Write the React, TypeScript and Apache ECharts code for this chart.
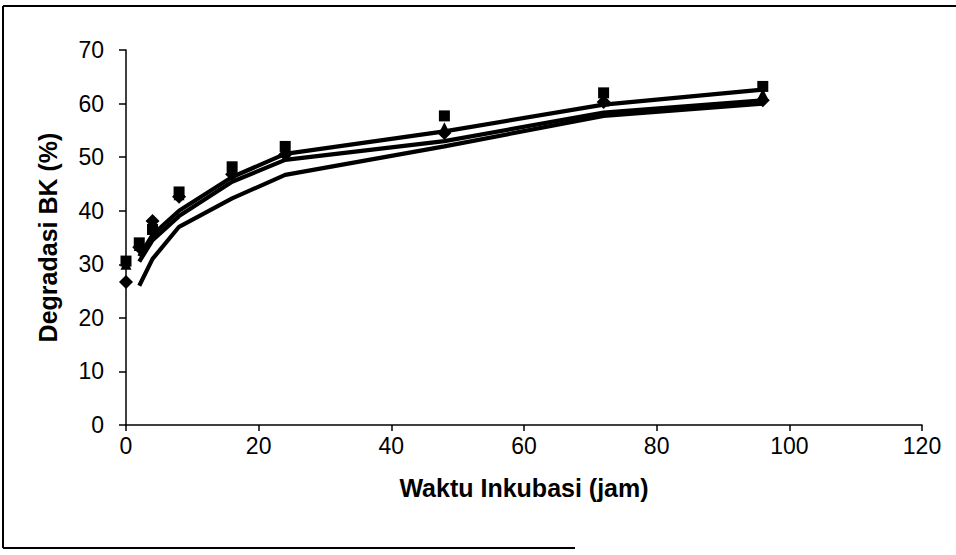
import React, { useEffect, useRef } from "react";
import * as echarts from "echarts";

const pointTimes = [0, 2, 4, 8, 16, 24, 48, 72, 96];
const squareValues = [30.6, 34.0, 36.5, 43.5, 48.2, 52.0, 57.7, 62.0, 63.2];
const diamondValues = [26.7, 33.2, 38.1, 42.6, 46.8, 50.5, 54.5, 60.3, 60.6];
const triangleValues = [30.0, 33.5, 37.0, 43.0, 47.5, 51.0, 55.5, 60.5, 61.8];

const curveTimes = [2, 4, 8, 16, 24, 48, 72, 96];
const curveA = [31.5, 35.5, 40.0, 46.3, 50.6, 54.8, 59.8, 62.6];
const curveB = [30.5, 34.5, 39.0, 45.4, 49.5, 53.0, 58.3, 60.6];
const curveC = [26.0, 31.0, 37.0, 42.3, 46.7, 52.0, 57.7, 60.0];

const xTicks = { min: 0, max: 120, interval: 20 };
const yTicks = { min: 0, max: 70, interval: 10 };

const xTitle = "Waktu Inkubasi (jam)";
const yTitle = "Degradasi BK (%)";

const pair = (xs: number[], ys: number[]) => xs.map((x, i) => [x, ys[i]]);

export default function App() {
  const ref = useRef<HTMLDivElement>(null);
  useEffect(() => {
    if (!ref.current) return;
    const chart = echarts.init(ref.current, null, { renderer: "svg" });
    const font = "'Liberation Sans', Arial, sans-serif";
    const lineSeries = (data: number[][]) => ({
      type: "line",
      data,
      showSymbol: false,
      symbol: "none",
      lineStyle: { color: "#000", width: 4.2, opacity: 1 },
      z: 3,
    });
    const scatterSeries = (data: number[][], symbol: string, size: number) => ({
      type: "scatter",
      data,
      symbol,
      symbolSize: size,
      itemStyle: { color: "#000", opacity: 1 },
      z: 2,
    });
    chart.setOption({
      animation: false,
      backgroundColor: "#fff",
      textStyle: { fontFamily: font },
      grid: { left: 126, right: 34, top: 50, bottom: 130 },
      xAxis: {
        type: "value",
        min: xTicks.min,
        max: xTicks.max,
        interval: xTicks.interval,
        name: xTitle,
        nameLocation: "middle",
        nameGap: 50,
        nameTextStyle: { fontSize: 25, fontWeight: "bold", color: "#000", fontFamily: font },
        axisLine: { lineStyle: { color: "#000", width: 1.5 } },
        axisTick: { show: true, length: 6, lineStyle: { color: "#000", width: 1.5 } },
        axisLabel: { fontSize: 23, color: "#000", margin: 9, fontFamily: font },
        splitLine: { show: false },
      },
      yAxis: {
        type: "value",
        min: yTicks.min,
        max: yTicks.max,
        interval: yTicks.interval,
        name: yTitle,
        nameLocation: "middle",
        nameGap: 66,
        nameRotate: 90,
        nameTextStyle: { fontSize: 25, fontWeight: "bold", color: "#000", fontFamily: font },
        axisLine: { show: true, lineStyle: { color: "#000", width: 1.5 } },
        axisTick: { show: true, length: 7, lineStyle: { color: "#000", width: 1.5 } },
        axisLabel: { fontSize: 23, color: "#000", margin: 22, fontFamily: font },
        splitLine: { show: false },
      },
      graphic: [
        { type: "line", shape: { x1: 3, y1: 6, x2: 956, y2: 6 }, style: { stroke: "#000", lineWidth: 2 } },
        { type: "line", shape: { x1: 3, y1: 6, x2: 3, y2: 548 }, style: { stroke: "#000", lineWidth: 2 } },
        { type: "line", shape: { x1: 3, y1: 548, x2: 575, y2: 548 }, style: { stroke: "#000", lineWidth: 2 } },
      ],
      series: [
        scatterSeries(pair(pointTimes, triangleValues), "triangle", 11),
        scatterSeries(pair(pointTimes, diamondValues), "diamond", 14),
        scatterSeries(pair(pointTimes, squareValues), "rect", 11),
        lineSeries(pair(curveTimes, curveA)),
        lineSeries(pair(curveTimes, curveB)),
        lineSeries(pair(curveTimes, curveC)),
      ],
    });
    return () => chart.dispose();
  }, []);
  return (
    <div
      ref={ref}
      style={{ position: "fixed", left: 0, top: 0, width: 956, height: 555, background: "#fff" }}
    />
  );
}
